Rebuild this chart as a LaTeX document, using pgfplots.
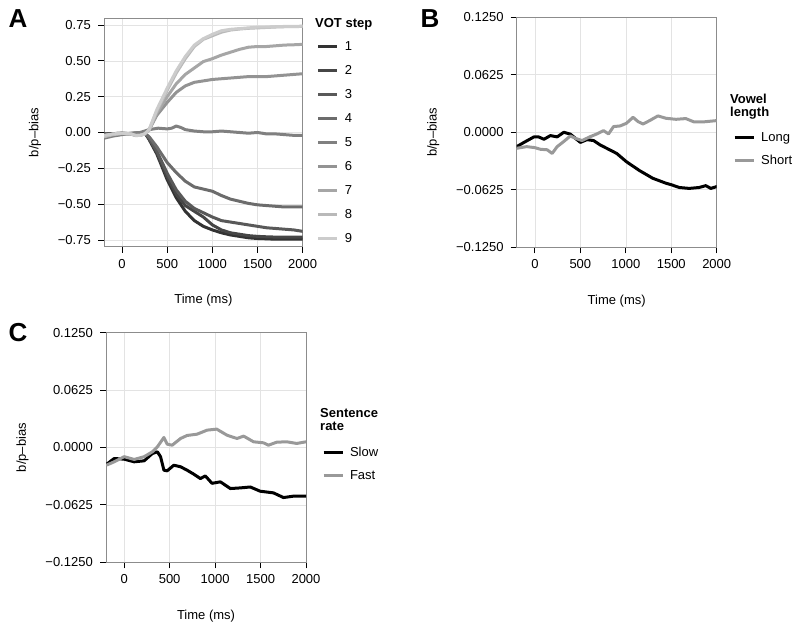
\documentclass[border=0pt]{standalone}
\usepackage{pgfplots}
\pgfplotsset{compat=1.18}
\usepackage{fontspec}
\setmainfont{Liberation Sans}
\definecolor{g1}{HTML}{333333}
\definecolor{g2}{HTML}{464646}
\definecolor{g3}{HTML}{595959}
\definecolor{g4}{HTML}{6C6C6C}
\definecolor{g5}{HTML}{808080}
\definecolor{g6}{HTML}{939393}
\definecolor{g7}{HTML}{A6A6A6}
\definecolor{g8}{HTML}{B9B9B9}
\definecolor{g9}{HTML}{CCCCCC}
\definecolor{shortc}{HTML}{999999}
\definecolor{framec}{HTML}{8C8C8C}
\definecolor{gridc}{HTML}{E3E3E3}
\pgfplotsset{
  myax/.style={
    scale only axis,
    xmin=-200, xmax=2000,
    xtick={0,500,1000,1500,2000},
    xticklabels={0,500,1000,1500,2000},
    axis line style={draw=framec, line width=0.8bp},
    tick align=outside, tick pos=left,
    major tick length=6bp,
    tick style={black, line width=0.8bp},
    grid=major,
    major grid style={draw=gridc, line width=0.6bp},
    tick label style={font=\fontsize{13bp}{15bp}\selectfont},
    yticklabel style={xshift=-3.7bp},
    xticklabel style={yshift=-3bp},
    label style={font=\fontsize{13bp}{15bp}\selectfont},
    xlabel={Time (ms)},
    ylabel={b/p\textendash bias},
    xlabel shift=19bp,
    ylabel shift=10bp,
    every axis plot/.append style={line width=3bp, line join=round, line cap=round},
    legend image code/.code={\draw[#1, line width=3bp, line cap=butt] (0bp,0bp) -- (19bp,0bp);},
    legend cell align=left,
    legend style={draw=none, fill=none, inner sep=0pt, anchor=north west,
      font=\fontsize{13bp}{15bp}\selectfont,
      nodes={inner sep=0pt, text height=9.4bp, text depth=0bp},
      /tikz/every odd column/.append style={column sep=6bp}},
  },
  abax/.style={
    ymin=-0.125, ymax=0.125,
    ytick={-0.125,-0.0625,0,0.0625,0.125},
    yticklabels={−0.1250,−0.0625,0.0000,0.0625,0.1250},
  }
}
\begin{document}
\begin{tikzpicture}[x=1bp,y=1bp]
\path (0,0) rectangle (800,630);
% Panel A
\begin{axis}[myax, at={(104bp,383.3bp)}, anchor=south west, width=198.7bp, height=228.4bp,
  ymin=-0.797, ymax=0.797,
  ytick={-0.75,-0.5,-0.25,0,0.25,0.5,0.75},
  yticklabels={−0.75,−0.50,−0.25,0.00,0.25,0.50,0.75},
  legend style={at={(1.07,0.9)}, row sep=14.6bp}]
\addplot[g1] coordinates {(-200,-0.01) (-100,-0.008) (0,-0.005) (100,-0.01) (200,-0.005) (250,0.0) (300,-0.05) (385,-0.15) (500,-0.33) (600,-0.455) (700,-0.55) (800,-0.615) (900,-0.655) (1000,-0.68) (1100,-0.70) (1200,-0.715) (1300,-0.725) (1400,-0.735) (1500,-0.74) (1600,-0.742) (1700,-0.745) (1800,-0.745) (1900,-0.745) (2000,-0.745)};
\addplot[g2] coordinates {(-200,-0.012) (-100,-0.008) (0,-0.006) (100,-0.01) (200,-0.005) (250,0.0) (300,-0.045) (385,-0.14) (500,-0.31) (600,-0.43) (700,-0.51) (800,-0.55) (900,-0.59) (1000,-0.645) (1100,-0.68) (1200,-0.70) (1300,-0.71) (1400,-0.72) (1500,-0.725) (1600,-0.728) (1700,-0.73) (1800,-0.73) (1900,-0.73) (2000,-0.73)};
\addplot[g3] coordinates {(-200,-0.015) (-100,-0.01) (0,-0.006) (100,-0.008) (200,-0.004) (250,0.0) (300,-0.04) (385,-0.13) (500,-0.285) (600,-0.40) (700,-0.48) (800,-0.53) (900,-0.56) (1000,-0.59) (1100,-0.615) (1200,-0.625) (1300,-0.635) (1400,-0.645) (1500,-0.655) (1600,-0.665) (1700,-0.67) (1800,-0.675) (1900,-0.68) (2000,-0.69)};
\addplot[g4] coordinates {(-200,-0.02) (-100,-0.012) (0,-0.008) (100,-0.006) (200,0.0) (250,-0.005) (300,-0.03) (385,-0.10) (500,-0.21) (600,-0.28) (700,-0.34) (800,-0.38) (900,-0.395) (1000,-0.41) (1100,-0.44) (1200,-0.465) (1300,-0.48) (1400,-0.495) (1500,-0.505) (1600,-0.51) (1700,-0.515) (1800,-0.52) (1900,-0.52) (2000,-0.52)};
\addplot[g5] coordinates {(-200,-0.04) (-100,-0.025) (0,-0.015) (100,-0.005) (200,0.0) (250,0.01) (300,0.02) (400,0.03) (500,0.025) (550,0.03) (600,0.045) (650,0.035) (700,0.02) (800,0.01) (900,0.005) (1000,0.005) (1100,0.01) (1200,0.005) (1300,0.0) (1400,-0.005) (1500,0.0) (1600,-0.01) (1700,-0.01) (1800,-0.015) (1900,-0.02) (2000,-0.02)};
\addplot[g6] coordinates {(-200,-0.02) (-100,-0.012) (0,-0.008) (100,-0.01) (150,-0.02) (200,-0.018) (250,-0.01) (300,0.02) (385,0.12) (500,0.21) (600,0.28) (700,0.325) (800,0.35) (900,0.36) (1000,0.37) (1100,0.375) (1200,0.38) (1300,0.385) (1400,0.39) (1500,0.39) (1600,0.39) (1700,0.395) (1800,0.40) (1900,0.405) (2000,0.41)};
\addplot[g7] coordinates {(-200,-0.025) (-100,-0.012) (0,-0.006) (100,-0.01) (150,-0.02) (200,-0.02) (250,-0.01) (300,0.015) (385,0.135) (500,0.25) (600,0.34) (700,0.405) (800,0.45) (900,0.495) (1000,0.515) (1100,0.54) (1200,0.56) (1300,0.58) (1400,0.595) (1500,0.60) (1600,0.60) (1700,0.605) (1800,0.61) (1900,0.612) (2000,0.615)};
\addplot[g8] coordinates {(-200,-0.03) (-100,-0.015) (0,-0.006) (100,-0.012) (150,-0.022) (200,-0.02) (250,-0.01) (300,0.018) (385,0.15) (500,0.295) (600,0.415) (700,0.515) (800,0.60) (900,0.65) (1000,0.675) (1100,0.70) (1200,0.715) (1300,0.722) (1400,0.727) (1500,0.73) (1600,0.733) (1700,0.736) (1800,0.738) (1900,0.739) (2000,0.74)};
\addplot[g9] coordinates {(-200,-0.02) (-100,-0.01) (0,-0.005) (100,-0.01) (150,-0.02) (200,-0.02) (250,-0.01) (300,0.02) (385,0.16) (500,0.31) (600,0.43) (700,0.53) (800,0.61) (900,0.655) (1000,0.685) (1100,0.71) (1200,0.72) (1300,0.725) (1400,0.73) (1500,0.735) (1600,0.735) (1700,0.738) (1800,0.74) (1900,0.74) (2000,0.742)};
\legend{1,2,3,4,5,6,7,8,9}
\end{axis}
% Panel B
\begin{axis}[myax, abax, at={(516.7bp,382.7bp)}, anchor=south west, width=200bp, height=230bp,
  legend style={at={(1.0815,0.5)}, row sep=13.6bp}]
\addplot[black] coordinates {(-200,-0.0156) (-120,-0.011) (-10,-0.005) (40,-0.005) (100,-0.0076) (170,-0.0036) (245,-0.005) (318,0.0) (390,-0.002) (500,-0.011) (573,-0.008) (646,-0.009) (718,-0.0138) (790,-0.0174) (900,-0.023) (1007,-0.032) (1152,-0.0417) (1297,-0.05) (1443,-0.0554) (1500,-0.057) (1588,-0.06) (1697,-0.061) (1807,-0.06) (1880,-0.058) (1935,-0.061) (2000,-0.059)};
\addplot[shortc] coordinates {(-200,-0.0174) (-90,-0.0156) (0,-0.0167) (62,-0.0185) (135,-0.019) (190,-0.023) (245,-0.0156) (318,-0.010) (390,-0.004) (445,-0.0065) (518,-0.009) (610,-0.0047) (682,-0.0018) (755,0.0018) (810,-0.0018) (865,0.0062) (938,0.0069) (1007,0.0098) (1080,0.0163) (1135,0.0116) (1190,0.009) (1262,0.0127) (1353,0.0178) (1443,0.0152) (1552,0.0141) (1660,0.0149) (1752,0.0112) (1843,0.0112) (2000,0.0127)};
\legend{Long,Short}
\end{axis}
% Panel C
\begin{axis}[myax, abax, at={(106bp,67.7bp)}, anchor=south west, width=200bp, height=229.6bp,
  legend style={at={(1.079,0.501)}, row sep=13.6bp}]
\addplot[black] coordinates {(-190,-0.018) (-110,-0.012) (0,-0.0127) (110,-0.0156) (220,-0.0145) (310,-0.0065) (365,-0.0047) (400,-0.010) (437,-0.0247) (473,-0.0254) (546,-0.0193) (620,-0.021) (692,-0.0247) (765,-0.029) (838,-0.0338) (893,-0.031) (966,-0.039) (1058,-0.0374) (1168,-0.0447) (1277,-0.044) (1387,-0.043) (1496,-0.0476) (1642,-0.0494) (1752,-0.0545) (1861,-0.053) (2000,-0.053)};
\addplot[shortc] coordinates {(-190,-0.019) (-110,-0.0156) (0,-0.010) (110,-0.013) (220,-0.010) (310,-0.0047) (365,0.0007) (437,0.0109) (473,0.0036) (528,0.0025) (620,0.0098) (692,0.0131) (802,0.0145) (912,0.0189) (1018,0.020) (1131,0.0134) (1241,0.0098) (1314,0.0124) (1423,0.0062) (1532,0.0051) (1587,0.0025) (1678,0.0058) (1788,0.0062) (1898,0.0044) (2000,0.0062)};
\legend{Slow,Fast}
\end{axis}
% legend titles
\node[anchor=base west, font=\fontsize{13bp}{15bp}\selectfont\bfseries, inner sep=0pt] at (315,602) {VOT step};
\node[anchor=base west, font=\fontsize{13bp}{15bp}\selectfont\bfseries, inner sep=0pt] at (730,526.7) {Vowel};
\node[anchor=base west, font=\fontsize{13bp}{15bp}\selectfont\bfseries, inner sep=0pt] at (730,513.3) {length};
\node[anchor=base west, font=\fontsize{13bp}{15bp}\selectfont\bfseries, inner sep=0pt] at (320,212.7) {Sentence};
\node[anchor=base west, font=\fontsize{13bp}{15bp}\selectfont\bfseries, inner sep=0pt] at (320,199) {rate};
% panel letters
\node[font=\fontsize{26bp}{28bp}\selectfont\bfseries] at (18,611) {A};
\node[font=\fontsize{26bp}{28bp}\selectfont\bfseries] at (430,611) {B};
\node[font=\fontsize{26bp}{28bp}\selectfont\bfseries] at (18,297.5) {C};
\end{tikzpicture}
\end{document}
